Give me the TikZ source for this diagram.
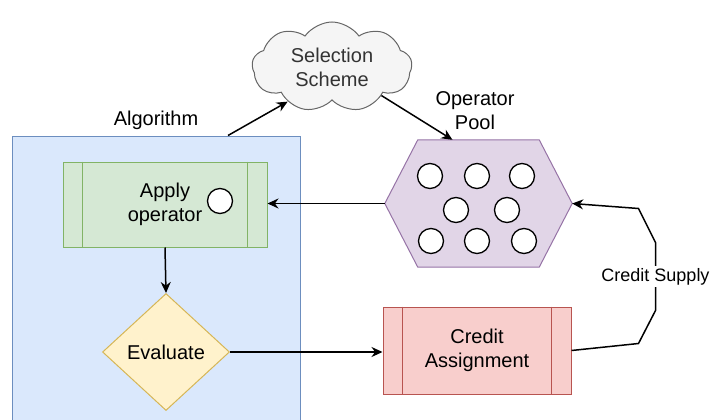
\documentclass[tikz,border=0pt]{standalone}
\usepackage{fontspec}
\setmainfont{Liberation Sans}
\usetikzlibrary{arrows.meta,shapes.geometric,shapes.symbols}
\definecolor{algofill}{HTML}{DAE8FC}
\definecolor{algoline}{HTML}{6C8EBF}
\definecolor{applyfill}{HTML}{D5E8D4}
\definecolor{applyline}{HTML}{82B366}
\definecolor{evalfill}{HTML}{FFF2CC}
\definecolor{evalline}{HTML}{D6B656}
\definecolor{creditfill}{HTML}{F8CECC}
\definecolor{creditline}{HTML}{B85450}
\definecolor{poolfill}{HTML}{E1D5E7}
\definecolor{poolline}{HTML}{9673A6}
\definecolor{cloudfill}{HTML}{F5F5F5}
\definecolor{cloudline}{HTML}{666666}
\definecolor{cloudtext}{HTML}{333333}

\begin{document}
\begin{tikzpicture}[x=1pt, y=-1pt,
	every node/.style={font=\fontsize{20}{24}\selectfont, align=center, inner sep=0pt},
	flow/.style={-{Stealth[length=11pt,width=10pt]}, line width=1.5pt},
	opcircle/.style={draw, fill=white, line width=1.3pt}]
	\useasboundingbox (0,0) rectangle (712,420);
	\node[draw=algoline, fill=algofill, line width=1pt, minimum width=288pt, minimum height=304pt] (algo) at (156,288) {};
	\node (algolabel) at (156,120) {Algorithm};
	\node[draw=applyline, fill=applyfill, line width=1pt, minimum width=204pt, minimum height=85pt] (apply) at (165,204.5) {Apply\\operator};
	\draw[applyline, line width=1pt] ([xshift=20pt]apply.north west) -- ([xshift=20pt]apply.south west);
	\draw[applyline, line width=1pt] ([xshift=-20pt]apply.north east) -- ([xshift=-20pt]apply.south east);
	\draw[opcircle] (220,201) circle (12.5);
	\node[diamond, draw=evalline, fill=evalfill, line width=1pt, minimum width=127pt, minimum height=117pt] (eval) at (166,352) {Evaluate};
	\node[draw=creditline, fill=creditfill, line width=1pt, minimum width=188pt, minimum height=87pt] (credit) at (477,350.5) {Credit\\Assignment};
	\draw[creditline, line width=1pt] ([xshift=20pt]credit.north west) -- ([xshift=20pt]credit.south west);
	\draw[creditline, line width=1pt] ([xshift=-20pt]credit.north east) -- ([xshift=-20pt]credit.south east);
	\node[minimum width=187pt, minimum height=127pt] (pool) at (478.5,203.5) {};
	\filldraw[draw=poolline, fill=poolfill, line width=1pt] (pool.west) -- ([xshift=33pt]pool.north west) -- ([xshift=-33pt]pool.north east)
		-- (pool.east) -- ([xshift=-33pt]pool.south east) -- ([xshift=33pt]pool.south west) -- cycle;
	\foreach \x/\y in {430/176, 477/176, 522/176, 456/210, 507/210, 431/241, 477/241, 524/241}
		\draw[opcircle] (\x,\y) circle (12.5);
	\node (poollabel) at (475,111) {Operator\\Pool};
	\node[cloud, cloud puffs=9, cloud puff arc=110, cloud ignores aspect, draw=cloudline, fill=cloudfill, text=cloudtext, line width=1pt, minimum width=160pt, minimum height=90pt] (scheme) at (332,67) {Selection\\Scheme};
	\draw[flow] ([xshift=72pt]algo.north) -- (scheme.218);
	\draw[flow] (scheme.330) -- ([xshift=-26pt]pool.north);
	\draw[flow] (pool.west) -- (pool.west -| apply.east);
	\draw[flow] (apply.south) -- (eval.north);
	\draw[flow] (eval.east) -- (eval.east -| credit.west);
	\draw[flow] (credit.east) -- ++(67,-7) -- ++(17,-33) -- node[fill=white, font=\fontsize{18}{22}\selectfont, inner ysep=2pt] (supply) {Credit Supply} ++(0,-68) -- ++(-17,-34) -- (pool.east);
\end{tikzpicture}
\end{document}
